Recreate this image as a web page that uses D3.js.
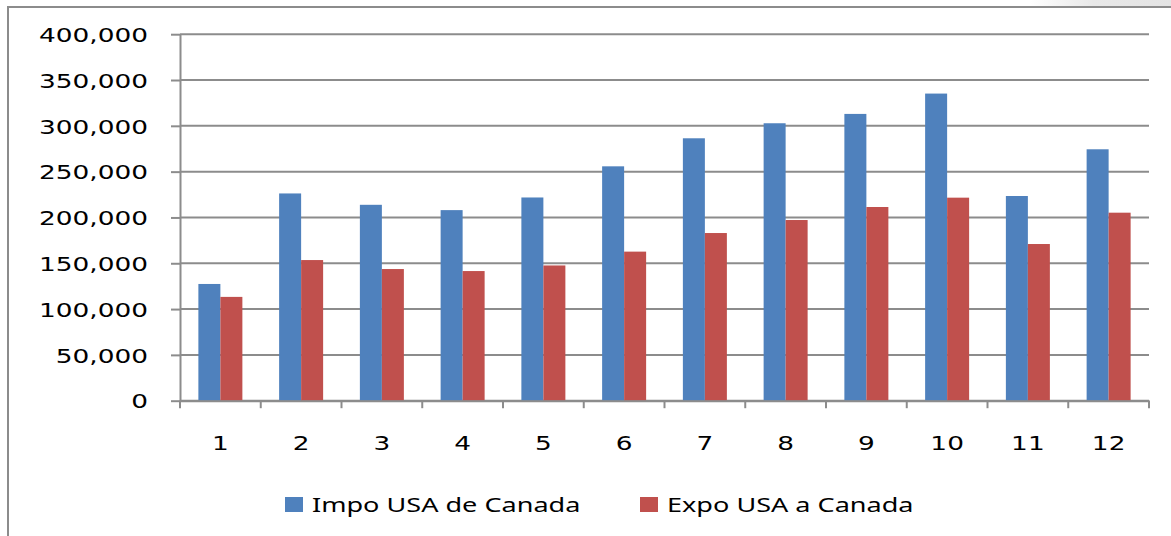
<!DOCTYPE html>
<html>
<head>
<meta charset="utf-8">
<script src="https://cdn.jsdelivr.net/npm/d3@7"></script>
<style>
  body { margin: 0; background: #fff; }
  svg { display: block; }
</style>
</head>
<body>
<div id="chart"></div>
<script>
// Daten
const months      = ['1','2','3','4','5','6','7','8','9','10','11','12'];
const seriesNames = ['Impo USA de Canada', 'Expo USA a Canada'];
const impo = [127400, 226200, 213800, 208000, 221800, 255800, 286400, 302800, 313000, 335200, 223400, 274400];
const expo = [113300, 153500, 143700, 141500, 147600, 162700, 183000, 197200, 211400, 221600, 171000, 205200];
const yTicks = [0, 50000, 100000, 150000, 200000, 250000, 300000, 350000, 400000];
const colors = ['#4F81BD', '#C0504D'];

// Layout
const W = 1171, H = 536;
const plot = { left: 180, right: 1149, top: 34.2, bottom: 400.7 };
const STRETCH = 1.32;          // Bild ist horizontal gestreckt
const gridColor = '#8c8c8c';

const svg = d3.select('#chart').append('svg')
  .attr('width', W).attr('height', H);

// leichter Schatten oben rechts
const defs = svg.append('defs');
const grad = defs.append('linearGradient').attr('id', 'shade')
  .attr('x1', 0).attr('x2', 1).attr('y1', 0).attr('y2', 0);
grad.append('stop').attr('offset', '0%').attr('stop-color', '#fff');
grad.append('stop').attr('offset', '45%').attr('stop-color', '#e8e8e8');
grad.append('stop').attr('offset', '100%').attr('stop-color', '#e4e4e4');
svg.append('rect').attr('x', 1030).attr('y', 0).attr('width', W - 1030).attr('height', 6)
  .attr('fill', 'url(#shade)');

// Rahmen (nur links + oben sichtbar)
svg.append('path')
  .attr('d', `M8,${H} L8,7 L${W},7`)
  .attr('fill', 'none').attr('stroke', gridColor).attr('stroke-width', 2);

// Skalen
const x0 = d3.scaleBand().domain(months).range([plot.left, plot.right]).padding(0);
const bw = x0.bandwidth();
const x1 = d3.scaleBand().domain([0, 1]).range([bw / 2 - 22, bw / 2 + 22]).padding(0);
const y = d3.scaleLinear().domain([0, 400000]).range([plot.bottom, plot.top]);

// horizontale Gitterlinien
svg.append('g').selectAll('line')
  .data(yTicks)
  .enter().append('line')
    .attr('x1', plot.left).attr('x2', plot.right)
    .attr('y1', d => y(d)).attr('y2', d => y(d))
    .attr('stroke', gridColor).attr('stroke-width', 2);

// Balken
const series = [impo, expo];
const groups = svg.append('g').selectAll('g')
  .data(months)
  .enter().append('g')
    .attr('transform', d => `translate(${x0(d)},0)`);

groups.selectAll('rect')
  .data((m, i) => series.map((s, k) => ({ k, v: s[i] })))
  .enter().append('rect')
    .attr('x', d => x1(d.k))
    .attr('width', x1.bandwidth())
    .attr('y', d => y(d.v))
    .attr('height', d => y(0) - y(d.v))
    .attr('fill', d => colors[d.k]);

// linke Achse
const yAxis = svg.append('g')
  .attr('transform', `translate(${plot.left},0)`)
  .call(d3.axisLeft(y)
    .tickValues(yTicks)
    .tickSize(9)
    .tickSizeOuter(0)
    .tickFormat(d3.format(','))
  );
yAxis.select('.domain').attr('stroke', gridColor).attr('stroke-width', 2);
yAxis.selectAll('.tick line').attr('stroke', gridColor).attr('stroke-width', 2);
yAxis.selectAll('.tick text')
  .attr('x', -32 / STRETCH)
  .attr('dy', '0.36em')
  .attr('transform', `scale(${STRETCH},1)`)
  .attr('font-family', 'DejaVu Sans, Verdana, sans-serif')
  .attr('font-size', 20)
  .attr('fill', '#000');

// untere Achse (Beschriftung mittig, Striche an den Grenzen)
const xAxis = svg.append('g')
  .attr('transform', `translate(0,${plot.bottom})`)
  .call(d3.axisBottom(x0).tickSize(0).tickSizeOuter(0));
xAxis.select('.domain').attr('stroke', gridColor).attr('stroke-width', 2);
xAxis.selectAll('.tick text')
  .attr('y', 49.5)
  .attr('dy', 0)
  .attr('transform', `scale(${STRETCH},1)`)
  .attr('font-family', 'DejaVu Sans, Verdana, sans-serif')
  .attr('font-size', 20)
  .attr('fill', '#000');

svg.append('g').selectAll('line')
  .data(months.map(m => x0(m)).concat([plot.right]))
  .enter().append('line')
    .attr('x1', d => d).attr('x2', d => d)
    .attr('y1', plot.bottom).attr('y2', plot.bottom + 7.5)
    .attr('stroke', gridColor).attr('stroke-width', 2);

// Legende
const legendPos = [{ sq: 285, tx: 312 }, { sq: 640, tx: 667 }];
const legend = svg.append('g').selectAll('g')
  .data(seriesNames)
  .enter().append('g');
legend.append('rect')
  .attr('x', (_, i) => legendPos[i].sq)
  .attr('y', 497)
  .attr('width', 18).attr('height', 15)
  .attr('fill', (_, i) => colors[i]);
legend.append('text')
  .attr('transform', (_, i) => `translate(${legendPos[i].tx},512) scale(${STRETCH},1)`)
  .attr('font-family', 'Noto Sans, Open Sans, sans-serif')
  .attr('font-size', 20.5)
  .attr('fill', '#000')
  .text(d => d);
</script>
</body>
</html>
